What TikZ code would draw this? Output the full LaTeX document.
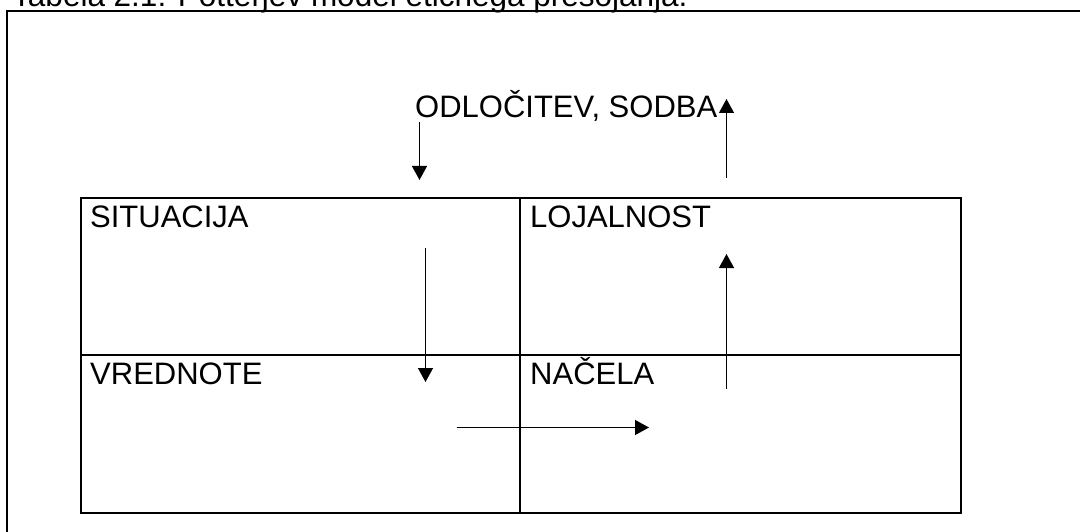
\documentclass[tikz,border=0pt]{standalone}
\usepackage{fontspec}
\setmainfont{Liberation Sans}
\usetikzlibrary{arrows.meta}
\begin{document}
\begin{tikzpicture}[x=1pt,y=-1pt,
  lbl/.style={anchor=base west,inner sep=0pt,font=\fontsize{31}{36}\selectfont},
  cell/.style={draw,line width=2pt,anchor=north west,minimum width=#1,minimum height=157pt,inner sep=0pt},
  arr/.style={line width=1.3pt,-{Triangle[length=14pt,width=15pt]}},
  frame/.style={line width=2pt}]
\useasboundingbox (0,0) rectangle (1080,532);
\begin{scope}
\clip (0,0) rectangle (1080,532);
% caption
\node[lbl,font=\fontsize{31.5}{36}\selectfont] (cap) at (12,7) {Tabela 2.1: Potterjev model etičnega presojanja.};
% outer frame (top and left edges visible)
\coordinate (fTL) at (7,11);
\coordinate (fTR) at (1090,11);
\coordinate (fBL) at (7,545);
\draw[frame] (fTR) -- (fTL) -- (fBL);
% table cells
\node[cell=439pt] (sit) at (80,197) {};
\node[cell=441pt] (loj) at (519,197) {};
\node[cell=439pt,minimum height=158pt] (vre) at (80,354) {};
\node[cell=441pt,minimum height=158pt] (nac) at (519,354) {};
% labels
\node[lbl] (tsit) at (90,227) {SITUACIJA};
\node[lbl] (tloj) at (530,227) {LOJALNOST};
\node[lbl] (tvre) at (90,384) {VREDNOTE};
\node[lbl] (tnac) at (530,384) {NAČELA};
\node[lbl] (todl) at (415,117.5) {ODLOČITEV, SODBA};
% arrow end points
\coordinate (a1s) at (419.5,122);
\coordinate (a1e) at (419.5,180);
\coordinate (a2s) at (726.5,178);
\coordinate (a2e) at (726.5,99);
\coordinate (a3s) at (425.5,248);
\coordinate (a3e) at (425.5,382);
\coordinate (a4s) at (726.5,389);
\coordinate (a4e) at (726.5,254);
\coordinate (a5s) at (456.5,427.5);
\coordinate (a5e) at (649,427.5);
\draw[arr] (a1s) -- (a1e);
\draw[arr] (a2s) -- (a2e);
\draw[arr] (a3s) -- (a3e);
\draw[arr] (a4s) -- (a4e);
\draw[arr] (a5s) -- (a5e);
\end{scope}
\end{tikzpicture}
\end{document}
